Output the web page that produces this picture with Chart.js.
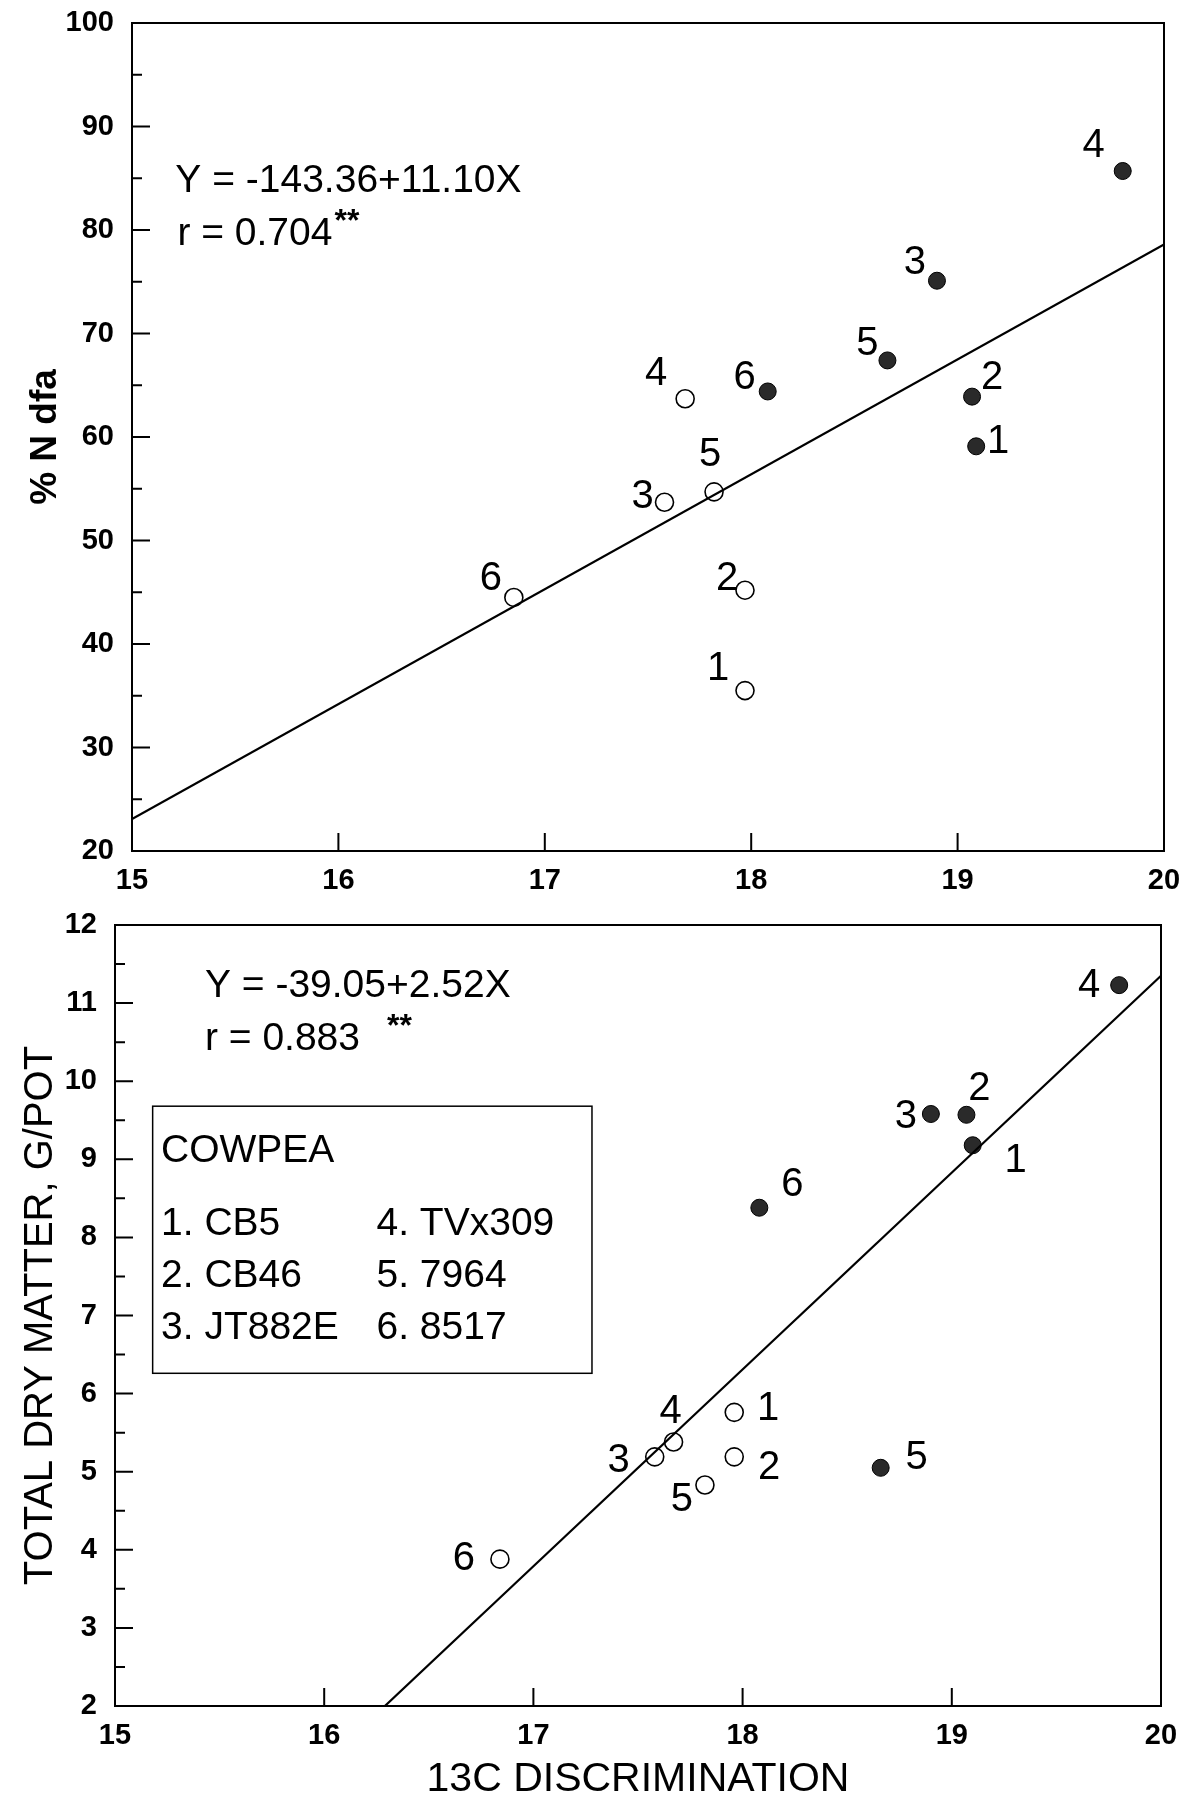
<!DOCTYPE html>
<html>
<head>
<meta charset="utf-8">
<script src="https://cdn.jsdelivr.net/npm/chart.js@4.4.0/dist/chart.umd.min.js"></script>
<style>
  body { margin: 0; background: #fff; }
  canvas { display: block; }
</style>
</head>
<body>
<canvas id="ndfa" width="1192" height="900"></canvas>
<canvas id="dm" width="1192" height="900"></canvas>
<script>
// ---- data ----
const genotypes = ["1", "2", "3", "4", "5", "6"];
const cultivars = ["CB5", "CB46", "JT882E", "TVx309", "7964", "8517"];

// top panel: % N dfa vs 13C discrimination
const ndfaOpenX = [17.97, 17.97, 17.58, 17.68, 17.82, 16.85];
const ndfaOpenY = [35.5, 45.2, 53.7, 63.7, 54.7, 44.5];
const ndfaFilledX = [19.09, 19.07, 18.90, 19.80, 18.66, 18.08];
const ndfaFilledY = [59.1, 63.9, 75.1, 85.7, 67.4, 64.4];
const ndfaFitX = [15, 20];
const ndfaFitY = [23.1, 78.6];

// bottom panel: total dry matter vs 13C discrimination
const dmOpenX = [17.96, 17.96, 17.58, 17.67, 17.82, 16.84];
const dmOpenY = [5.76, 5.19, 5.19, 5.38, 4.83, 3.88];
const dmFilledX = [19.10, 19.07, 18.90, 19.80, 18.66, 18.08];
const dmFilledY = [9.18, 9.57, 9.58, 11.23, 5.05, 8.38];
const dmFitX = [16.29, 20];
const dmFitY = [2, 11.35];

// ---- layout bits (label offsets in px from the point) ----
const ndfaOpenLabelPos = [[-27, -22], [-18, -11], [-22, -5], [-29, -25], [-4, -37], [-23, -18]];
const ndfaFilledLabelPos = [[22, -4], [20, -19], [-22, -18], [-29, -25], [-20, -16], [-23, -13]];
const dmOpenLabelPos = [[34, -3], [35, 11], [-36, 4], [-3, -30], [-23, 15], [-36, 0]];
const dmFilledLabelPos = [[43, 16], [13, -26], [-25, 3], [-30, 1], [36, -10], [33, -23]];

const FONT = "'Liberation Sans', Arial, Helvetica, sans-serif";

function pts(xs, ys) {
    return xs.map((x, i) => ({ x: x, y: ys[i] }));
}

// frame round the plot area + inward ticks
const frameTicks = {
    id: "frameTicks",
    afterDraw(chart, args, opts) {
        const { ctx, chartArea: a, scales: { x, y } } = chart;
        ctx.save();
        ctx.strokeStyle = "#000";
        ctx.lineWidth = 2;
        ctx.strokeRect(a.left, a.top, a.right - a.left, a.bottom - a.top);
        ctx.beginPath();
        const n = Math.round((y.max - y.min) / opts.yMinor);
        for (let i = 1; i < n; i++) {
            const v = y.min + i * opts.yMinor;
            const py = y.getPixelForValue(v);
            const len = i % 2 === 0 ? 18 : 10;
            ctx.moveTo(a.left, py);
            ctx.lineTo(a.left + len, py);
        }
        for (let v = x.min + 1; v < x.max; v++) {
            const px = x.getPixelForValue(v);
            ctx.moveTo(px, a.bottom);
            ctx.lineTo(px, a.bottom - 18);
        }
        ctx.stroke();
        ctx.restore();
    }
};

// genotype numbers beside each point
const pointLabels = {
    id: "pointLabels",
    afterDatasetsDraw(chart) {
        const ctx = chart.ctx;
        ctx.save();
        ctx.fillStyle = "#000";
        ctx.font = "40px " + FONT;
        ctx.textAlign = "center";
        ctx.textBaseline = "middle";
        chart.data.datasets.forEach((ds, di) => {
            if (!ds.labelPos) return;
            chart.getDatasetMeta(di).data.forEach((el, i) => {
                const off = ds.labelPos[i];
                ctx.fillText(genotypes[i], el.x + off[0], el.y + off[1]);
            });
        });
        ctx.restore();
    }
};

// regression text and the cultivar box
const notes = {
    id: "notes",
    afterDraw(chart, args, opts) {
        const { ctx, scales: { x, y } } = chart;
        ctx.save();
        ctx.fillStyle = "#000";
        ctx.textBaseline = "alphabetic";
        ctx.textAlign = "left";

        ctx.font = "39px " + FONT;
        const eq = opts.equation;
        ctx.fillText(eq.text, x.getPixelForValue(eq.x), y.getPixelForValue(eq.y));
        const r = opts.r;
        const rx = x.getPixelForValue(r.x);
        const ry = y.getPixelForValue(r.y);
        ctx.fillText(r.text, rx, ry);
        const w = ctx.measureText(r.text).width;
        ctx.font = "bold 32px " + FONT;
        ctx.fillText("**", rx + w + r.starGap, ry - 14);

        if (opts.box) {
            const b = opts.box;
            const x1 = x.getPixelForValue(b.x1), x2 = x.getPixelForValue(b.x2);
            const y1 = y.getPixelForValue(b.y1), y2 = y.getPixelForValue(b.y2);
            ctx.fillStyle = "#fff";
            ctx.fillRect(x1, y1, x2 - x1, y2 - y1);
            ctx.strokeStyle = "#000";
            ctx.lineWidth = 1.5;
            ctx.strokeRect(x1, y1, x2 - x1, y2 - y1);
            ctx.fillStyle = "#000";
            ctx.font = "39px " + FONT;
            ctx.fillText(b.title, x.getPixelForValue(b.col1), y.getPixelForValue(b.titleY));
            for (let i = 0; i < 3; i++) {
                const py = y.getPixelForValue(b.rows[i]);
                ctx.fillText(genotypes[i] + ". " + cultivars[i], x.getPixelForValue(b.col1), py);
                ctx.fillText(genotypes[i + 3] + ". " + cultivars[i + 3], x.getPixelForValue(b.col2), py);
            }
        }
        ctx.restore();
    }
};

function tickFont() {
    return { family: FONT, size: 29, weight: "bold" };
}

function makeChart(id, cfg) {
    return new Chart(document.getElementById(id), {
        type: "scatter",
        data: {
            datasets: [
                {
                    type: "line",
                    data: pts(cfg.fitX, cfg.fitY),
                    borderColor: "#000",
                    borderWidth: 2.2,
                    pointRadius: 0,
                    fill: false
                },
                {
                    data: pts(cfg.openX, cfg.openY),
                    pointStyle: "circle",
                    pointRadius: 9,
                    backgroundColor: "#fff",
                    borderColor: "#000",
                    borderWidth: 1.6,
                    labelPos: cfg.openLabelPos
                },
                {
                    data: pts(cfg.filledX, cfg.filledY),
                    pointStyle: "circle",
                    pointRadius: 8.5,
                    backgroundColor: "#2a2a2a",
                    borderColor: "#000",
                    borderWidth: 1,
                    labelPos: cfg.filledLabelPos
                }
            ]
        },
        options: {
            responsive: false,
            animation: false,
            layout: { padding: cfg.padding },
            plugins: {
                legend: { display: false },
                tooltip: { enabled: false },
                frameTicks: { yMinor: cfg.yMinor },
                notes: cfg.notes
            },
            scales: {
                x: {
                    type: "linear",
                    min: 15,
                    max: 20,
                    afterFit(s) {
                        s.height = cfg.xHeight;
                        s.paddingLeft = 0;
                        s.paddingRight = 0;
                    },
                    grid: { display: false, drawTicks: false },
                    border: { display: false },
                    ticks: { stepSize: 1, padding: 13, color: "#000", font: tickFont() },
                    title: cfg.xTitle
                },
                y: {
                    min: cfg.yMin,
                    max: cfg.yMax,
                    afterFit(s) {
                        s.width = cfg.yWidth;
                        s.paddingTop = 0;
                        s.paddingBottom = 0;
                    },
                    grid: { display: false, drawTicks: false },
                    border: { display: false },
                    ticks: { stepSize: cfg.yStep, padding: 18, color: "#000", font: tickFont() },
                    title: cfg.yTitle
                }
            }
        },
        plugins: [frameTicks, pointLabels, notes]
    });
}

makeChart("ndfa", {
    fitX: ndfaFitX, fitY: ndfaFitY,
    openX: ndfaOpenX, openY: ndfaOpenY, openLabelPos: ndfaOpenLabelPos,
    filledX: ndfaFilledX, filledY: ndfaFilledY, filledLabelPos: ndfaFilledLabelPos,
    padding: { top: 23, right: 28, bottom: 0, left: 0 },
    xHeight: 49, yWidth: 132,
    yMin: 20, yMax: 100, yStep: 10, yMinor: 5,
    xTitle: { display: false },
    yTitle: {
        display: true, text: "% N dfa", color: "#000",
        font: { family: FONT, size: 37, weight: "bold" }, padding: { top: 24, bottom: 0 }
    },
    notes: {
        equation: { text: "Y = -143.36+11.10X", x: 15.21, y: 83.7 },
        r: { text: "r = 0.704", x: 15.22, y: 78.55, starGap: 2 }
    }
});

makeChart("dm", {
    fitX: dmFitX, fitY: dmFitY,
    openX: dmOpenX, openY: dmOpenY, openLabelPos: dmOpenLabelPos,
    filledX: dmFilledX, filledY: dmFilledY, filledLabelPos: dmFilledLabelPos,
    padding: { top: 25, right: 31, bottom: 0, left: 0 },
    xHeight: 94, yWidth: 115,
    yMin: 2, yMax: 12, yStep: 1, yMinor: 0.5,
    xTitle: {
        display: true, text: "13C DISCRIMINATION", color: "#000",
        font: { family: FONT, size: 41, lineHeight: 1 }, padding: { top: 0, bottom: 0 }
    },
    yTitle: {
        display: true, text: "TOTAL DRY MATTER, G/POT", color: "#000",
        font: { family: FONT, size: 40 }, padding: { top: 17, bottom: 0 }
    },
    notes: {
        equation: { text: "Y = -39.05+2.52X", x: 15.43, y: 11.08 },
        r: { text: "r = 0.883", x: 15.43, y: 10.40, starGap: 27 },
        box: {
            x1: 15.18, x2: 17.28, y1: 9.68, y2: 6.26,
            title: "COWPEA", titleY: 8.97,
            col1: 15.22, col2: 16.25,
            rows: [8.03, 7.36, 6.70]
        }
    }
});
</script>
</body>
</html>
